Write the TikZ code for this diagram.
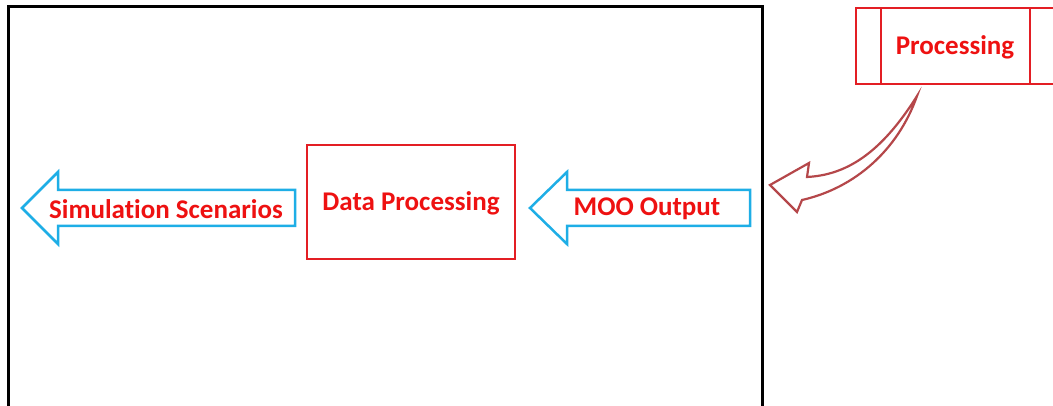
\documentclass[tikz,border=0pt]{standalone}
\usepackage{fontspec}
\setmainfont[Ligatures=NoCommon]{Carlito}
\definecolor{boxred}{HTML}{E31E24}
\definecolor{txtred}{HTML}{EE1111}
\definecolor{arrowblue}{HTML}{1EAEE6}
\definecolor{curvebrown}{HTML}{B5474A}
\tikzset{
  frame/.style={draw=black, line width=3pt},
  redbox/.style={draw=boxred, line width=2.3pt},
  bluearrow/.style={draw=arrowblue, line width=2.5pt, fill=white, line join=miter},
  curvearrow/.style={draw=curvebrown, line width=2.2pt, fill=white, line join=miter},
  label/.style={text=txtred, font=\fontsize{27}{30}\selectfont\bfseries, inner sep=0pt}
}
\begin{document}
\begin{tikzpicture}[x=1pt, y=-1pt]
\useasboundingbox (0,0) rectangle (1053,406);
% outer frame, open at the bottom edge
\draw[frame] (8,420) -- (8,7) -- (762,7) -- (762,420);
% top-right process box with side bars
\draw[redbox] (1070,8) -- (856,8) -- (856,84) -- (1070,84);
\draw[redbox] (881,8) -- (881,84);
\draw[redbox] (1030,8) -- (1030,84);
\node[label] (proc) at (955,47) {Processing};
% central block
\draw[redbox] (307,145) rectangle (515,259);
\node[label] (dp) at (411,203) {Data Processing};
% input arrow
\draw[bluearrow] (530,208) -- (567,172) -- (567,190) -- (750,190) -- (750,226) -- (567,226) -- (567,244) -- cycle;
\node[label] (moo) at (647,209) {MOO Output};
% output arrow
\draw[bluearrow] (22,208) -- (58,172) -- (58,190) -- (295,190) -- (295,226) -- (58,226) -- (58,244) -- cycle;
\node[label] (sim) at (166,209) {Simulation Scenarios};
% curved arrow from the process box into the frame
\draw[curvearrow] (917,96) .. controls (880,155) and (845,175) .. (807,177)
  -- (809,163) -- (770,185) -- (797,212) -- (802,200)
  .. controls (855,188) and (898,150) .. cycle;
\end{tikzpicture}
\end{document}
